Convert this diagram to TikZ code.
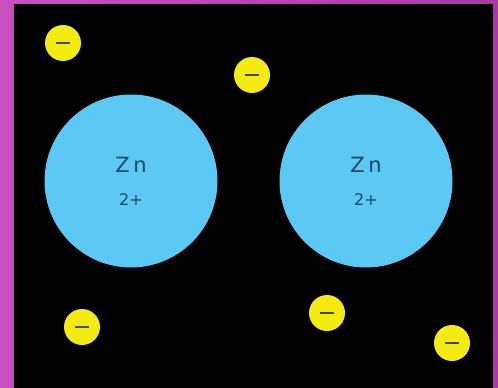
\documentclass[tikz,border=0pt]{standalone}
\usepackage{fontspec}
\setmainfont{DejaVu Sans}
\definecolor{magL}{HTML}{C850C0}
\definecolor{magR}{HTML}{A43CA4}
\definecolor{ionblue}{HTML}{5CC8F4}
\definecolor{iontext}{HTML}{1A4868}
\definecolor{elyellow}{HTML}{F4EC10}
\definecolor{eldark}{HTML}{4A4A10}
\begin{document}
\begin{tikzpicture}[x=1pt,y=-1pt,
  ion/.style={circle,fill=ionblue,minimum size=173pt,inner sep=0pt},
  electron/.style={circle,fill=elyellow,minimum size=36pt,inner sep=0pt},
  iontxt/.style={text=iontext,align=center}]
\shade[left color=magL,right color=magR] (0,0) rectangle (498,388);
\useasboundingbox (0,0) rectangle (498,388);
\fill[black] (14,4) rectangle (493,388);
\node[ion] (zn1) at (131,181) {};
\node[ion] (zn2) at (366,181) {};
\foreach \n in {zn1,zn2}{
  \node[iontxt,font=\fontsize{21}{22}\selectfont] (\n a) at ([yshift=16pt]\n.center) {Z\,n};
  \node[iontxt,font=\fontsize{16}{17}\selectfont] (\n b) at ([yshift=-19pt]\n.center) {2+};
}
\foreach \i/\x/\y in {1/63/43,2/252/75,3/82/327,4/327/313,5/452/343}{
  \node[electron] (e\i) at (\x,\y) {};
  \draw[eldark,line width=2pt] ([xshift=-7pt]e\i.center) -- ([xshift=7pt]e\i.center);
}
\end{tikzpicture}
\end{document}
